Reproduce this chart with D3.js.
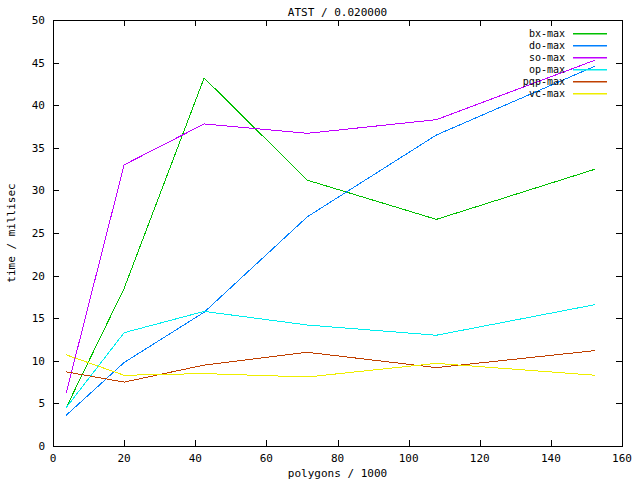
<!DOCTYPE html>
<html><head><meta charset="utf-8">
<script src="https://cdn.jsdelivr.net/npm/d3@7"></script>
<style>body{margin:0;background:#fff}svg{display:block}text{font-family:"DejaVu Sans Mono","Liberation Mono",monospace;font-size:11px;fill:#000}text.leg{font-size:10px}</style>
</head><body>
<script>
const title = "ATST / 0.020000";
const xLabel = "polygons / 1000";
const yLabel = "time / millisec";
const xs = [3.7, 20, 42.5, 71.5, 107.8, 152.5];
const seriesNames = ["bx-max", "do-max", "so-max", "op-max", "pqp-max", "vc-max"];
const seriesColors = ["#00c000", "#0080ff", "#c000ff", "#00eeee", "#c04000", "#eeee00"];
const bx  = [4.5, 18.5, 43.2, 31.2, 26.6, 32.5];
const dO  = [3.6, 9.8, 15.7, 26.9, 36.5, 44.6];
const so  = [6.2, 33.0, 37.8, 36.7, 38.3, 45.3];
const op  = [4.5, 13.3, 15.8, 14.2, 13.0, 16.6];
const pqp = [8.7, 7.5, 9.5, 11.0, 9.2, 11.2];
const vc  = [10.7, 8.3, 8.5, 8.1, 9.7, 8.3];
const seriesValues = [bx, dO, so, op, pqp, vc];
const xTicks = [0, 20, 40, 60, 80, 100, 120, 140, 160];
const yTicks = [0, 5, 10, 15, 20, 25, 30, 35, 40, 45, 50];

const W = 640, H = 480;
const L = 53, R = 622, T = 20, B = 446;
const svg = d3.select("body").append("svg").attr("width", W).attr("height", H);
const x = d3.scaleLinear().domain([0, 160]).range([L, R]);
const y = d3.scaleLinear().domain([0, 50]).range([B, T]);

const g = svg.append("g").attr("shape-rendering", "crispEdges");
g.append("rect").attr("x", L + 0.5).attr("y", T + 0.5).attr("width", R - L).attr("height", B - T)
  .attr("fill", "none").attr("stroke", "#000");
const tl = 6;
xTicks.forEach(v => {
  const px = Math.round(x(v)) + 0.5;
  g.append("line").attr("x1", px).attr("x2", px).attr("y1", B).attr("y2", B - tl).attr("stroke", "#000");
  g.append("line").attr("x1", px).attr("x2", px).attr("y1", T).attr("y2", T + tl).attr("stroke", "#000");
  svg.append("text").attr("x", x(v)).attr("y", B + 16).attr("text-anchor", "middle").text(v);
});
yTicks.forEach(v => {
  const py = Math.round(y(v)) + 0.5;
  g.append("line").attr("x1", L).attr("x2", L + tl).attr("y1", py).attr("y2", py).attr("stroke", "#000");
  g.append("line").attr("x1", R).attr("x2", R - tl).attr("y1", py).attr("y2", py).attr("stroke", "#000");
  svg.append("text").attr("x", L - 8).attr("y", y(v) + 4).attr("text-anchor", "end").text(v);
});

svg.append("text").attr("x", (L + R) / 2).attr("y", 16).attr("text-anchor", "middle").text(title);
svg.append("text").attr("x", (L + R) / 2).attr("y", 477).attr("text-anchor", "middle").text(xLabel);
svg.append("text").attr("transform", `translate(15,${(T + B) / 2}) rotate(-90)`).attr("text-anchor", "middle").text(yLabel);

const line = d3.line().x((d, i) => x(xs[i])).y(d => y(d));
seriesValues.forEach((vals, k) => {
  svg.append("path").datum(vals).attr("d", line).attr("fill", "none")
    .attr("stroke", seriesColors[k]).attr("stroke-width", 1).attr("shape-rendering", "crispEdges");
  const ly = 33 + 12 * k;
  svg.append("text").attr("class", "leg").attr("x", 565).attr("y", ly + 4).attr("text-anchor", "end").text(seriesNames[k]);
  svg.append("rect").attr("x", 573).attr("y", ly).attr("width", 34).attr("height", 1.5)
    .attr("fill", seriesColors[k]);
});
</script>
</body></html>
